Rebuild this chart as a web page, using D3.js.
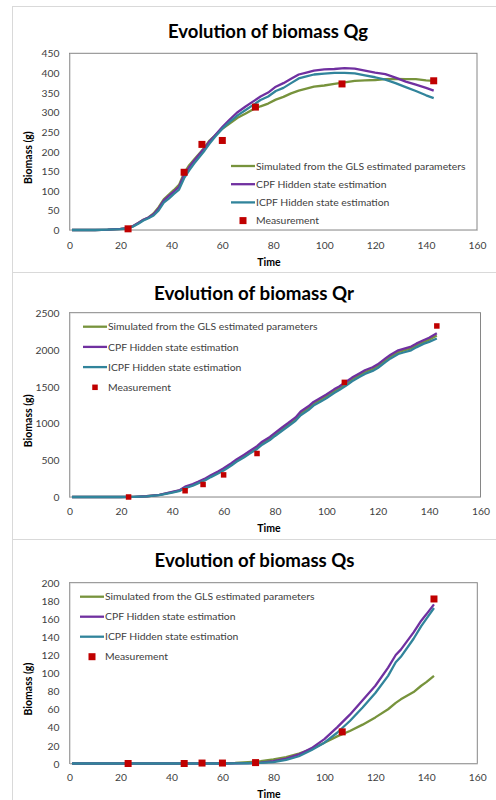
<!DOCTYPE html>
<html><head><meta charset="utf-8">
<script src="https://cdn.jsdelivr.net/npm/d3@7"></script>
<style>
html,body{margin:0;padding:0;background:#fff;}
svg{display:block;font-family:Lato,"Open Sans",sans-serif;}
</style></head>
<body>
<svg id="chart" width="496" height="800"></svg>
<script>
// ---------------- DATA ----------------
const seriesNames = ["Simulated from the GLS estimated parameters","CPF Hidden state estimation","ICPF Hidden state estimation","Measurement"];
const measTime = [23,45,52,60,73,107,143];

// Qg
const qgTitle = "Evolution of biomass Qg";
const qgTime = [1,10,15,20,23,25,27,29,31,33,35,37,39,41,43,45,47,49,51,53,55,57,60,63,66,69,72,75,78,81,84,87,90,93,96,100,104,108,112,116,120,124,128,132,136,140,143];
const qgGLS  = [0,0,1,3,5,10,18,26,32,42,58,78,90,102,115,145,165,180,195,210,228,240,258,272,286,296,307,315,322,332,339,348,355,360,365,368,372,376,380,381,382,384,385,384,384,381,380];
const qgCPF  = [0,0,1,3,5,10,18,26,32,40,55,75,87,98,110,140,160,177,193,208,226,240,262,282,300,314,327,340,350,365,374,385,396,401,406,409,410,412,411,406,401,397,388,378,370,362,355];
const qgICPF = [0,0,1,2,4,9,16,24,30,37,50,70,80,92,103,132,152,170,186,202,220,236,258,276,292,305,318,331,340,354,362,374,386,391,396,398,400,400,399,394,389,383,374,364,354,343,336];
const qgMeas = [3,147,218,228,313,372,380];
const qgTicks = [0,50,100,150,200,250,300,350,400,450];

// Qr
const qrTitle = "Evolution of biomass Qr";
const qrTime = [1,10,20,25,30,35,40,43,45,48,50,53,55,58,60,63,65,68,70,73,75,78,80,83,85,88,90,93,95,98,100,103,105,108,110,113,115,118,120,123,125,128,130,133,135,138,140,143];
const qrCPF  = [0,0,0,2,10,30,70,95,140,175,205,255,295,350,390,460,510,575,620,690,750,815,870,950,1000,1080,1160,1230,1290,1350,1390,1460,1500,1570,1620,1680,1720,1760,1800,1880,1930,1990,2010,2040,2080,2130,2160,2220];
const qrGLS  = [0,0,0,2,10,28,66,90,130,165,195,243,283,337,376,445,495,558,603,672,731,795,850,928,978,1057,1136,1205,1265,1325,1366,1435,1476,1546,1596,1655,1695,1735,1776,1855,1905,1965,1986,2015,2055,2105,2135,2190];
const qrICPF = [0,0,0,1,8,25,60,84,120,155,184,230,270,322,360,428,478,540,585,652,710,773,828,905,956,1033,1110,1180,1240,1300,1340,1410,1450,1520,1570,1630,1670,1710,1750,1830,1880,1940,1960,1990,2030,2080,2105,2150];
const qrMeas = [0,85,170,300,590,1555,2320];
const qrTicks = [0,500,1000,1500,2000,2500];

// Qs
const qsTitle = "Evolution of biomass Qs";
const qsTime = [1,20,40,60,65,70,75,80,85,90,95,100,105,110,115,120,125,128,130,135,138,140,143];
const qsGLS  = [0,0,0,0.3,0.6,1.5,2.5,4.5,7,11,16,23,30,36,43,51,60,67,71,79,86,90,97];
const qsCPF  = [0,0,0,0,0.2,0.5,1,2.5,5.5,10,17,27,40,54,70,86,106,120,126,145,158,165,176];
const qsICPF = [0,0,0,0,0.1,0.3,0.6,1.5,4,8,15,23,34,47,62,78,97,112,118,138,152,160,172];
const qsMeas = [0,0,0.5,0.5,1,35,182];
const qsTicks = [0,20,40,60,80,100,120,140,160,180,200];

const xTicks = [0,20,40,60,80,100,120,140,160];
const yLabel = "Biomass (g)";
const xLabel = "Time";

// ---------------- LAYOUT ----------------
const colors = ["#77933C","#7030A0","#31849B","#C00000"];
const panels = [
  {title:qgTitle, time:qgTime, series:[qgGLS,qgCPF,qgICPF], meas:qgMeas, ticks:qgTicks, ymax:450,
   frame:{x:12,y:6,w:500,h:266}, plot:{l:69.5,r:477,t:53.3,b:230}, titleX:268, titleY:38,
   legend:{x:231,y:166,dy:18.2}, mSize:7, xLabY:245, timeY:266},
  {title:qrTitle, time:qrTime, series:[qrGLS,qrCPF,qrICPF], meas:qrMeas, ticks:qrTicks, ymax:2500,
   frame:{x:12,y:272,w:500,h:267}, plot:{l:69.5,r:480.5,t:312.7,b:497}, titleX:254, titleY:300,
   legend:{x:83,y:326.7,dy:20.2}, mSize:5.5, xLabY:511, timeY:532},
  {title:qsTitle, time:qsTime, series:[qsGLS,qsCPF,qsICPF], meas:qsMeas, ticks:qsTicks, ymax:200,
   frame:{x:12,y:539,w:500,h:300}, plot:{l:69.5,r:477.3,t:582.7,b:763.5}, titleX:254.5, titleY:567,
   legend:{x:80,y:596.7,dy:20}, mSize:7, xLabY:777, timeY:798}
];

const svg = d3.select("#chart");

function fit(sel, target){
  const n = sel.node();
  const fs = parseFloat(sel.attr("font-size"));
  const w = n.getComputedTextLength();
  if (w>0) sel.attr("font-size", fs*target/w);
  return parseFloat(sel.attr("font-size"));
}

panels.forEach((p,pi)=>{
  const g = svg.append("g");
  g.append("rect").attr("x",p.frame.x+0.5).attr("y",p.frame.y+0.5)
    .attr("width",p.frame.w).attr("height",p.frame.h)
    .attr("fill","#fff").attr("stroke","#d9d9d9").attr("stroke-width",1);

  const x = d3.scaleLinear().domain([0,160]).range([p.plot.l,p.plot.r]);
  const y = d3.scaleLinear().domain([0,p.ymax]).range([p.plot.b,p.plot.t]);

  // plot area border
  g.append("rect").attr("x",p.plot.l).attr("y",p.plot.t)
    .attr("width",p.plot.r-p.plot.l).attr("height",p.plot.b-p.plot.t)
    .attr("fill","none").attr("stroke","#868686").attr("stroke-width",1);

  // axes
  const xa = g.append("g").attr("transform",`translate(0,${p.plot.b})`)
    .call(d3.axisBottom(x).tickValues(xTicks).tickFormat(d3.format("d")).tickSize(0).tickPadding(0));
  const ya = g.append("g").attr("transform",`translate(${p.plot.l},0)`)
    .call(d3.axisLeft(y).tickValues(p.ticks).tickFormat(d3.format("d")).tickSize(0).tickPadding(10));
  [xa,ya].forEach(a=>{
    a.select(".domain").attr("stroke","#bfbfbf");
    a.selectAll("text").attr("font-family","Lato, sans-serif").attr("font-size",10.3).attr("fill","#404040");
  });
  xa.selectAll("text").attr("dy","0.35em").attr("y",p.xLabY-p.plot.b);
  ya.selectAll("text").attr("dy","0.35em");

  // lines
  const line = d3.line().x((d,i)=>x(p.time[i])).y(d=>y(d));
  [0,1,2].forEach(si=>{
    g.append("path").datum(p.series[si]).attr("d",line)
      .attr("fill","none").attr("stroke",colors[si]).attr("stroke-width",2.3)
      .attr("stroke-linejoin","round");
  });

  // measurements
  g.selectAll("rect.m").data(p.meas).enter().append("rect").attr("class","m")
    .attr("x",(d,i)=>x(measTime[i])-p.mSize/2).attr("y",d=>y(d)-p.mSize/2)
    .attr("width",p.mSize).attr("height",p.mSize).attr("fill",colors[3]);

  // title
  const t = g.append("text").attr("x",p.titleX).attr("y",p.titleY).attr("text-anchor","middle")
    .attr("font-family","Lato, sans-serif").attr("font-weight","bold").attr("font-size",18)
    .attr("fill","#000").text(p.title);
  fit(t, 200);

  // axis titles
  g.append("text").attr("x",269).attr("y",p.timeY).attr("text-anchor","middle")
    .attr("font-family","Lato, sans-serif").attr("font-weight","bold").attr("font-size",10.5)
    .attr("fill","#000").text(xLabel);
  const yc = (p.plot.t+p.plot.b)/2+16;
  g.append("text").attr("transform",`translate(31.5,${yc}) rotate(-90)`).attr("text-anchor","middle")
    .attr("font-family","Lato, sans-serif").attr("font-weight","bold").attr("font-size",10.5)
    .attr("fill","#000").text(yLabel);

  // legend
  let legendFs = 10.5;
  seriesNames.forEach((nm,i)=>{
    const ly = p.legend.y + i*p.legend.dy;
    if (i<3){
      g.append("line").attr("x1",p.legend.x).attr("x2",p.legend.x+24).attr("y1",ly).attr("y2",ly)
        .attr("stroke",colors[i]).attr("stroke-width",2.3);
    } else {
      g.append("rect").attr("x",p.legend.x+12-p.mSize/2).attr("y",ly-p.mSize/2)
        .attr("width",p.mSize).attr("height",p.mSize).attr("fill",colors[3]);
    }
    const tx = g.append("text").attr("x",p.legend.x+25).attr("y",ly).attr("dy","0.35em")
      .attr("font-family","Lato, sans-serif").attr("font-size",legendFs).attr("fill","#404040").text(nm);
    if (i===0) legendFs = fit(tx, 210);
  });
});
</script>
</body></html>
